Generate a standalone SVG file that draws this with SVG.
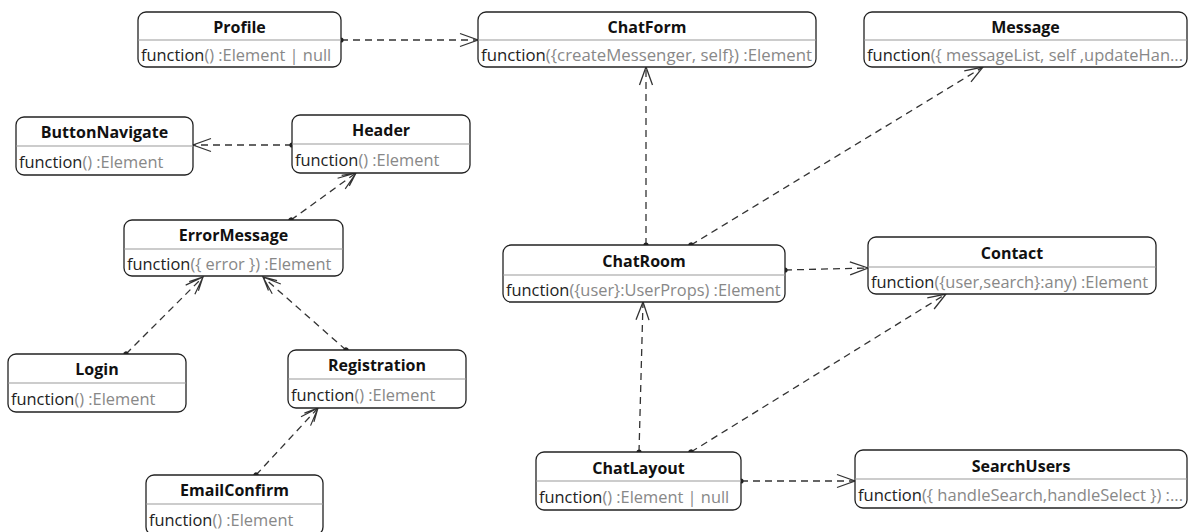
<svg xmlns="http://www.w3.org/2000/svg" width="1200" height="532" viewBox="0 0 1200 532">
<style>
.box{fill:#fff;stroke:#222;stroke-width:1.3}
.div{stroke:#999;stroke-width:1.2}
.t{font-family:"Open Sans","Noto Sans",sans-serif;font-size:16px;font-weight:bold;fill:#111;text-anchor:middle}
.b{font-family:"Open Sans","Noto Sans",sans-serif;font-size:16.4px;fill:#888}
.f{fill:#222}
.e{fill:none;stroke:#333;stroke-width:1.3;stroke-dasharray:7,5}
</style>
<defs>
<marker id="a" markerUnits="userSpaceOnUse" markerWidth="22" markerHeight="16" refX="19" refY="8" orient="auto">
<path d="M1,1.5 L19,8 L1,14.5" fill="none" stroke="#333" stroke-width="1.3"/>
</marker>
<marker id="a2" markerUnits="userSpaceOnUse" markerWidth="22" markerHeight="16" refX="19" refY="8" orient="auto">
<path d="M1,1.5 L19,8 L1,14.5 M6,1.5 L19,8 L6,14.5" fill="none" stroke="#333" stroke-width="1.2"/>
</marker>
<marker id="d" markerUnits="userSpaceOnUse" markerWidth="8" markerHeight="8" refX="4" refY="4" orient="auto">
<circle cx="4" cy="4" r="2.6" fill="#222"/>
</marker>
</defs>
<g id="connectors">
<line class="e" x1="341" y1="40" x2="478" y2="40" marker-start="url(#d)" marker-end="url(#a)"/>
<line class="e" x1="646" y1="245" x2="646" y2="67" marker-start="url(#d)" marker-end="url(#a)"/>
<line class="e" x1="691" y1="245" x2="983" y2="67" marker-start="url(#d)" marker-end="url(#a)"/>
<line class="e" x1="785" y1="270" x2="868" y2="268" marker-start="url(#d)" marker-end="url(#a)"/>
<line class="e" x1="639" y1="452" x2="643" y2="302" marker-start="url(#d)" marker-end="url(#a)"/>
<line class="e" x1="691" y1="452" x2="946" y2="294" marker-start="url(#d)" marker-end="url(#a)"/>
<line class="e" x1="741" y1="481" x2="855" y2="481" marker-start="url(#d)" marker-end="url(#a)"/>
<line class="e" x1="292" y1="145" x2="193" y2="145" marker-start="url(#d)" marker-end="url(#a)"/>
<line class="e" x1="291" y1="220" x2="356" y2="173" marker-start="url(#d)" marker-end="url(#a2)"/>
<line class="e" x1="126" y1="354" x2="203" y2="277" marker-start="url(#d)" marker-end="url(#a2)"/>
<line class="e" x1="346" y1="350" x2="263" y2="277" marker-start="url(#d)" marker-end="url(#a2)"/>
<line class="e" x1="256" y1="475" x2="318" y2="408" marker-start="url(#d)" marker-end="url(#a2)"/>
</g>
<g id="Profile">
<rect class="box" x="138" y="12" width="203" height="55" rx="8"/>
<line class="div" x1="138" y1="40" x2="341" y2="40"/>
<text class="t" x="239.5" y="33">Profile</text>
<text class="b" x="141" y="61"><tspan class="f">function</tspan>() :Element | null</text>
</g>
<g id="ChatForm">
<rect class="box" x="478" y="12" width="338" height="55" rx="8"/>
<line class="div" x1="478" y1="40" x2="816" y2="40"/>
<text class="t" x="647" y="33">ChatForm</text>
<text class="b" x="481" y="61" textLength="331" lengthAdjust="spacingAndGlyphs"><tspan class="f">function</tspan>({createMessenger, self}) :Element</text>
</g>
<g id="Message">
<rect class="box" x="864" y="12" width="323" height="55" rx="8"/>
<line class="div" x1="864" y1="40" x2="1187" y2="40"/>
<text class="t" x="1025.5" y="33">Message</text>
<text class="b" x="867" y="61" textLength="316" lengthAdjust="spacingAndGlyphs"><tspan class="f">function</tspan>({ messageList, self ,updateHan...</text>
</g>
<g id="ButtonNavigate">
<rect class="box" x="16" y="117" width="177" height="58" rx="8"/>
<line class="div" x1="16" y1="146" x2="193" y2="146"/>
<text class="t" x="104.5" y="138">ButtonNavigate</text>
<text class="b" x="19" y="168"><tspan class="f">function</tspan>() :Element</text>
</g>
<g id="Header">
<rect class="box" x="292" y="115" width="178" height="58" rx="8"/>
<line class="div" x1="292" y1="144" x2="470" y2="144"/>
<text class="t" x="381" y="136">Header</text>
<text class="b" x="295" y="166"><tspan class="f">function</tspan>() :Element</text>
</g>
<g id="ErrorMessage">
<rect class="box" x="124" y="220" width="219" height="56" rx="8"/>
<line class="div" x1="124" y1="249" x2="343" y2="249"/>
<text class="t" x="233.5" y="241">ErrorMessage</text>
<text class="b" x="127" y="270"><tspan class="f">function</tspan>({ error }) :Element</text>
</g>
<g id="Login">
<rect class="box" x="8" y="354" width="178" height="58" rx="8"/>
<line class="div" x1="8" y1="383" x2="186" y2="383"/>
<text class="t" x="97" y="375">Login</text>
<text class="b" x="11" y="405"><tspan class="f">function</tspan>() :Element</text>
</g>
<g id="Registration">
<rect class="box" x="288" y="350" width="178" height="58" rx="8"/>
<line class="div" x1="288" y1="379" x2="466" y2="379"/>
<text class="t" x="377" y="371">Registration</text>
<text class="b" x="291" y="401"><tspan class="f">function</tspan>() :Element</text>
</g>
<g id="EmailConfirm">
<rect class="box" x="146" y="475" width="177" height="60" rx="8"/>
<line class="div" x1="146" y1="504" x2="323" y2="504"/>
<text class="t" x="234.5" y="496">EmailConfirm</text>
<text class="b" x="149" y="526"><tspan class="f">function</tspan>() :Element</text>
</g>
<g id="ChatRoom">
<rect class="box" x="503" y="245" width="282" height="57" rx="8"/>
<line class="div" x1="503" y1="275" x2="785" y2="275"/>
<text class="t" x="644" y="267">ChatRoom</text>
<text class="b" x="506" y="296"><tspan class="f">function</tspan>({user}:UserProps) :Element</text>
</g>
<g id="Contact">
<rect class="box" x="868" y="237" width="288" height="57" rx="8"/>
<line class="div" x1="868" y1="267" x2="1156" y2="267"/>
<text class="t" x="1012" y="259">Contact</text>
<text class="b" x="871" y="288"><tspan class="f">function</tspan>({user,search}:any) :Element</text>
</g>
<g id="ChatLayout">
<rect class="box" x="536" y="452" width="205" height="58" rx="8"/>
<line class="div" x1="536" y1="481" x2="741" y2="481"/>
<text class="t" x="638.5" y="474">ChatLayout</text>
<text class="b" x="539" y="503"><tspan class="f">function</tspan>() :Element | null</text>
</g>
<g id="SearchUsers">
<rect class="box" x="855" y="450" width="332" height="58" rx="8"/>
<line class="div" x1="855" y1="479" x2="1187" y2="479"/>
<text class="t" x="1021" y="472">SearchUsers</text>
<text class="b" x="858" y="501" textLength="325" lengthAdjust="spacingAndGlyphs"><tspan class="f">function</tspan>({ handleSearch,handleSelect }) :...</text>
</g>
</svg>
